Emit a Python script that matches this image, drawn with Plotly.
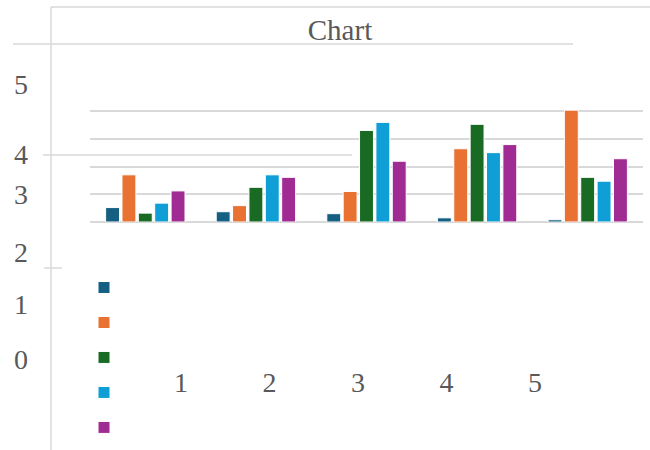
import plotly.graph_objects as go

# ---- data ----
categories = ["1", "2", "3", "4", "5"]
series_1 = [0.52, 0.37, 0.30, 0.15, 0.08]
series_2 = [1.70, 0.59, 1.10, 2.64, 4.03]
series_3 = [0.32, 1.25, 3.30, 3.52, 1.61]
series_4 = [0.68, 1.70, 3.59, 2.50, 1.47]
series_5 = [1.12, 1.61, 2.19, 2.79, 2.28]
x_tick_labels = ["1", "2", "3", "4", "5"]
y_tick_labels = ["5", "4", "3", "2", "1", "0"]

# ---- styling / layout helpers ----
W, H = 650, 450
def px(x):
    return x / W
def py(y):
    return 1 - y / H

colors = ["#156082", "#E97132", "#196B24", "#0F9ED5", "#A02B93"]
grid = "#d9d9d9"
text_col = "#595959"
serif = "Liberation Serif, Times New Roman, serif"

fig = go.Figure()
for vals, c in zip([series_1, series_2, series_3, series_4, series_5], colors):
    fig.add_trace(go.Bar(
        x=categories, y=vals, name="",
        marker=dict(color=c, line=dict(color="white", width=1)),
        showlegend=True,
    ))

# invisible trace carrying the stray label axes
fig.add_trace(go.Scatter(x=[None], y=[None], xaxis="x2", yaxis="y2",
                         showlegend=False, hoverinfo="skip"))

# pixel rows where the stray y labels sit (layout, not data)
y_label_rows = [84, 154, 194, 252, 304, 359]

# plot area: value 0 at pixel row 222, value 4 at row 111; top extended a bit
base_row, top_row, area_top = 222, 111, 106
y_max = 4 * (base_row - area_top) / (base_row - top_row)

fig.update_layout(
    width=W, height=H,
    margin=dict(l=0, r=0, t=0, b=0),
    paper_bgcolor="white", plot_bgcolor="rgba(0,0,0,0)",
    barmode="group", bargap=0.26, bargroupgap=0.15,
    title=dict(text="Chart", x=px(340), y=py(30), xanchor="center",
               yanchor="middle", xref="paper", yref="paper",
               font=dict(family=serif, size=29, color=text_col)),
    xaxis=dict(domain=[px(90), px(643)], showticklabels=False,
               showgrid=False, zeroline=False, showline=False, ticks=""),
    yaxis=dict(domain=[py(base_row), py(area_top)], range=[0, y_max],
               tickmode="array", tickvals=[1, 2, 3, 4],
               showticklabels=False, showgrid=True, gridcolor=grid,
               gridwidth=1.5, zeroline=True, zerolinecolor=grid,
               zerolinewidth=1.5, showline=False, ticks=""),
    xaxis2=dict(domain=[px(181 - 44.25), px(535 + 44.25)], range=[0.5, 5.5],
                tickmode="array", tickvals=[1, 2, 3, 4, 5],
                ticktext=x_tick_labels, anchor="free", position=py(363),
                showgrid=False, zeroline=False, showline=False, ticks="",
                tickfont=dict(family=serif, size=28, color=text_col)),
    yaxis2=dict(domain=[0, 1], range=[H, 0], tickmode="array",
                tickvals=y_label_rows, ticktext=y_tick_labels,
                anchor="free", position=px(28),
                showgrid=False, zeroline=False, showline=False, ticks="",
                tickfont=dict(family=serif, size=28, color=text_col)),
    legend=dict(x=px(84), y=py(265), xanchor="left", yanchor="top",
                orientation="v", bgcolor="rgba(0,0,0,0)",
                font=dict(size=24.6), tracegroupgap=0),
    showlegend=True,
)

line = dict(color=grid, width=1.5)
for (x0, y0, x1, y1) in [(51, 7, 650, 7), (51, 7, 51, 450), (13, 44, 573, 44),
                         (43, 155, 352, 155), (44, 268, 62, 268)]:
    fig.add_shape(type="line", xref="paper", yref="paper",
                  x0=px(x0), y0=py(y0), x1=px(x1), y1=py(y1),
                  line=line, layer="below")

fig.write_html("out.html")
